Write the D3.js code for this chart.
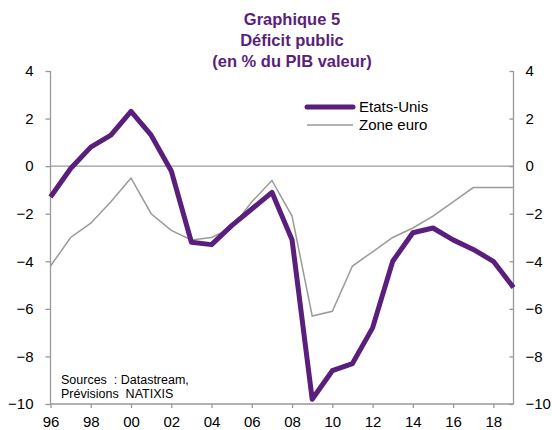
<!DOCTYPE html>
<html>
<head>
<meta charset="utf-8">
<script src="https://cdn.jsdelivr.net/npm/d3@7"></script>
<style>
  body { margin: 0; background: #fff; }
  text { font-family: "Liberation Sans", Arial, sans-serif; }
</style>
</head>
<body>
<script>
// years on the x axis
var years = [1996, 1997, 1998, 1999, 2000, 2001, 2002, 2003, 2004, 2005, 2006, 2007,
             2008, 2009, 2010, 2011, 2012, 2013, 2014, 2015, 2016, 2017, 2018, 2019];

// deficit, % of GDP
var usValues = [-1.3, -0.1, 0.8, 1.3, 2.3, 1.3, -0.2, -3.2, -3.3, -2.5, -1.8, -1.1,
                -3.1, -9.8, -8.6, -8.3, -6.8, -4.0, -2.8, -2.6, -3.1, -3.5, -4.0, -5.1];
var euroValues = [-4.2, -3.0, -2.4, -1.5, -0.5, -2.0, -2.7, -3.1, -3.0, -2.6, -1.5, -0.6,
                  -2.1, -6.3, -6.1, -4.2, -3.6, -3.0, -2.6, -2.1, -1.5, -0.9, -0.9, -0.9];

var yTicks = [4, 2, 0, -2, -4, -6, -8, -10];
var xTicks = [1996, 1998, 2000, 2002, 2004, 2006, 2008, 2010, 2012, 2014, 2016, 2018];

var seriesNames = ["Etats-Unis", "Zone euro"];
var titleLines = ["Graphique 5", "Déficit public", "(en % du PIB valeur)"];
var sourceLines = ["Sources  : Datastream,", "Prévisions  NATIXIS"];

var w = 552;
var h = 430;
var purple = "#5a1f7c";
var axisGrey = "#999999";

var svg = d3.select("body")
  .append("svg")
  .attr("width", w)
  .attr("height", h);

var x = d3.scaleLinear().domain([1996, 2019]).range([50.5, 513.5]);
var y = d3.scaleLinear().domain([-10, 4]).range([404, 71]);

// title
svg.selectAll(".title")
  .data(titleLines)
  .enter()
  .append("text")
  .attr("class", "title")
  .attr("x", 292)
  .attr("y", function(d, i) { return 25 + i * 21; })
  .attr("text-anchor", "middle")
  .attr("font-size", "16.5px")
  .attr("font-weight", "bold")
  .attr("fill", purple)
  .text(function(d) { return d; });

// zero line
svg.append("line")
  .attr("x1", x(1996)).attr("x2", x(2019))
  .attr("y1", y(0)).attr("y2", y(0))
  .attr("stroke", axisGrey)
  .attr("stroke-width", 1.3);

// left axis
var leftAxis = svg.append("g")
  .attr("transform", "translate(" + x(1996) + ",0)")
  .call(d3.axisLeft(y).tickValues(yTicks).tickSize(5).tickPadding(12).tickFormat(d3.format("d")));

// right axis (ticks point inward)
var rightAxis = svg.append("g")
  .attr("transform", "translate(" + x(2019) + ",0)")
  .call(d3.axisRight(y).tickValues(yTicks).tickSize(-4).tickPadding(12).tickFormat(d3.format("d")));

// bottom axis
var bottomAxis = svg.append("g")
  .attr("transform", "translate(0," + y(-10) + ")")
  .call(d3.axisBottom(x).tickValues(xTicks).tickSize(4).tickPadding(8)
    .tickFormat(function(d) { return d3.format("02d")(d % 100); }));

[leftAxis, rightAxis, bottomAxis].forEach(function(g) {
  g.select(".domain").attr("stroke", axisGrey).attr("stroke-width", 1.3);
  g.selectAll(".tick line").attr("stroke", axisGrey).attr("stroke-width", 1.3);
  g.selectAll(".tick text")
    .attr("font-family", "'Liberation Sans', Arial, sans-serif")
    .attr("font-size", "15px")
    .attr("fill", "#000");
});
leftAxis.select(".domain").attr("d", "M0," + y(4) + "V" + y(-10));
rightAxis.select(".domain").attr("d", "M0," + y(4) + "V" + y(-10));
bottomAxis.select(".domain").attr("d", "M" + x(1996) + ",0H" + x(2019));

// lines
var line = d3.line()
  .x(function(d, i) { return x(years[i]); })
  .y(function(d) { return y(d); });

svg.append("path")
  .datum(euroValues)
  .attr("d", line)
  .attr("fill", "none")
  .attr("stroke", "#9a9a9a")
  .attr("stroke-width", 1.5);

svg.append("path")
  .datum(usValues)
  .attr("d", line)
  .attr("fill", "none")
  .attr("stroke", purple)
  .attr("stroke-width", 5)
  .attr("stroke-linejoin", "round");

// legend
var legend = svg.selectAll(".legend")
  .data(seriesNames)
  .enter()
  .append("g")
  .attr("class", "legend")
  .attr("transform", function(d, i) { return "translate(307," + (107 + i * 18) + ")"; });

legend.append("line")
  .attr("x1", 0).attr("x2", 46)
  .attr("y1", 0).attr("y2", 0)
  .attr("stroke", function(d, i) { return i == 0 ? purple : "#9a9a9a"; })
  .attr("stroke-width", function(d, i) { return i == 0 ? 5 : 1.5; })
  .attr("stroke-linecap", function(d, i) { return i == 0 ? "round" : "butt"; });

legend.append("text")
  .attr("x", 52)
  .attr("y", 5)
  .attr("font-size", "15px")
  .attr("fill", "#000")
  .text(function(d) { return d; });

// sources note
svg.selectAll(".source")
  .data(sourceLines)
  .enter()
  .append("text")
  .attr("class", "source")
  .attr("x", 61)
  .attr("y", function(d, i) { return 384 + i * 13.5; })
  .attr("font-size", "12.5px")
  .attr("fill", "#000")
  .style("white-space", "pre")
  .text(function(d) { return d; });
</script>
</body>
</html>
